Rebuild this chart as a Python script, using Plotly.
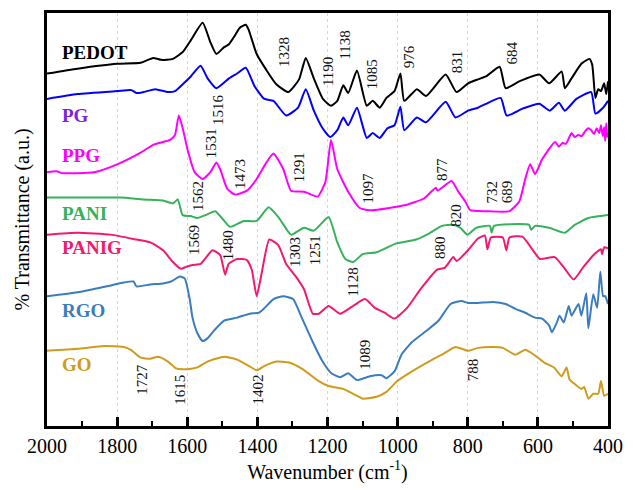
import plotly.graph_objects as go

# FTIR spectra, transmittance in arbitrary units (curves stacked with offsets)
wn_pedot = [2000, 1913, 1800, 1733, 1697, 1674, 1641, 1613, 1590, 1556, 1534, 1517, 1495, 1481, 1464,
            1450, 1433, 1425, 1402, 1375, 1346, 1312, 1281, 1262, 1239, 1213, 1190, 1172, 1155, 1141,
            1116, 1088, 1071, 1051, 1032, 1009, 992, 981, 945, 919, 863, 832, 799, 771, 748, 709, 692,
            653, 596, 568, 532, 523, 504, 476, 453, 445, 436, 428, 420, 411, 405, 400]
t_pedot = [361, 366, 371, 372, 377, 375, 376, 383, 395, 413, 393, 381, 388, 391, 400,
           408, 411, 406, 381, 365, 350, 342, 355, 377, 356, 335, 328, 333, 349, 341,
           364, 328, 333, 326, 336, 343, 361, 333, 345, 338, 360, 342, 351, 355, 358, 368, 346,
           353, 360, 351, 363, 346, 356, 371, 376, 370, 336, 345, 343, 351, 340, 353]

wn_pg = [2000, 1913, 1800, 1759, 1745, 1725, 1691, 1655, 1635, 1613, 1590, 1562, 1542, 1517, 1481,
         1458, 1433, 1408, 1380, 1354, 1318, 1284, 1262, 1239, 1214, 1192, 1172, 1155, 1141, 1116,
         1088, 1071, 1051, 1029, 1009, 992, 981, 945, 919, 863, 835, 799, 771, 748, 706, 689, 644,
         596, 566, 540, 523, 490, 448, 436, 414, 400]
t_pg = [335, 340, 343, 344, 341, 342, 345, 342, 343, 350, 358, 369, 356, 346, 356,
        361, 367, 348, 335, 333, 318, 326, 345, 323, 305, 296, 303, 316, 308, 326,
        295, 300, 295, 305, 308, 327, 303, 316, 311, 332, 316, 323, 326, 330, 336, 318, 325,
        330, 323, 331, 323, 335, 342, 320, 326, 333]

wn_ppg = [2000, 1972, 1958, 1865, 1800, 1733, 1697, 1649, 1635, 1624, 1613, 1599, 1579, 1556, 1534,
          1517, 1506, 1486, 1464, 1430, 1402, 1374, 1354, 1326, 1304, 1267, 1228, 1206, 1190, 1172,
          1141, 1107, 1074, 981, 925, 891, 886, 846, 827, 807, 793, 748, 681, 653, 636, 622, 608,
          588, 551, 540, 530, 520, 504, 495, 485, 475, 465, 456, 448, 440, 432, 425, 420, 415,
          411, 408, 405, 402, 400]
t_ppg = [260, 261, 259, 260, 268, 280, 288, 293, 298, 318, 305, 283, 260, 253, 260,
         270, 263, 243, 237, 241, 253, 270, 279, 263, 241, 240, 235, 250, 293, 263,
         240, 223, 221, 226, 233, 244, 241, 251, 240, 230, 221, 220, 220, 230, 253, 268, 258,
         273, 291, 286, 290, 289, 300, 296, 298, 297, 302, 305, 303, 299, 305, 300, 308, 297,
         306, 292, 310, 296, 300]

wn_pani = [2000, 1913, 1789, 1725, 1669, 1641, 1627, 1613, 1590, 1571, 1548, 1520, 1478, 1439, 1402,
           1368, 1338, 1304, 1267, 1239, 1197, 1172, 1149, 1127, 1099, 1060, 1004, 947, 911, 874,
           841, 821, 801, 776, 737, 732, 725, 625, 619, 608, 568, 523, 495, 456, 400]
t_pani = [234, 234, 234, 232, 231, 228, 232, 216, 215, 213, 216, 220, 204, 210, 210,
          224, 213, 196, 203, 200, 214, 188, 171, 168, 176, 178, 187, 191, 197, 205,
          206, 203, 196, 203, 205, 198, 205, 206, 201, 205, 203, 198, 206, 213, 216]

wn_panig = [2000, 1913, 1818, 1745, 1705, 1669, 1641, 1618, 1604, 1585, 1562, 1528, 1506, 1492, 1482,
            1458, 1430, 1416, 1402, 1388, 1366, 1340, 1318, 1290, 1267, 1242, 1225, 1197, 1164, 1127,
            1093, 1065, 1037, 1009, 973, 933, 888, 866, 841, 832, 799, 771, 751, 744, 734, 700, 690,
            681, 644, 616, 594, 552, 523, 498, 470, 439, 420, 417, 411, 400]
t_panig = [196, 198, 196, 191, 188, 180, 168, 161, 163, 165, 166, 180, 175, 155, 166,
           171, 170, 160, 133, 156, 191, 185, 166, 153, 140, 115, 115, 123, 115, 123,
           130, 121, 116, 110, 121, 141, 160, 162, 173, 169, 180, 192, 195, 181, 193, 193, 180,
           193, 194, 181, 171, 173, 161, 150, 163, 176, 181, 176, 183, 182]

wn_rgo = [2000, 1913, 1818, 1781, 1753, 1745, 1705, 1669, 1646, 1621, 1607, 1593, 1585, 1571, 1556,
          1542, 1523, 1495, 1458, 1422, 1396, 1382, 1354, 1326, 1298, 1276, 1242, 1214, 1189, 1164,
          1141, 1116, 1079, 1046, 1032, 1009, 989, 959, 916, 883, 849, 818, 799, 771, 728, 692, 664,
          636, 608, 588, 568, 560, 546, 538, 526, 512, 504, 484, 476, 462, 456, 442, 431, 422, 414,
          408, 400]
t_rgo = [133, 137, 144, 147, 148, 143, 145, 146, 148, 153, 151, 130, 111, 95, 87,
         90, 98, 108, 111, 115, 116, 120, 130, 133, 130, 113, 86, 66, 54, 50,
         54, 47, 51, 52, 49, 56, 73, 86, 98, 108, 125, 128, 126, 126, 127, 125, 120,
         116, 111, 110, 103, 96, 106, 113, 106, 123, 113, 125, 113, 136, 100, 135, 121, 158, 133,
         133, 125]

wn_go = [2000, 1913, 1837, 1781, 1761, 1733, 1705, 1683, 1655, 1632, 1613, 1585, 1571, 1542, 1495,
         1458, 1422, 1402, 1382, 1346, 1309, 1270, 1225, 1197, 1155, 1127, 1099, 1060, 1032, 1001,
         959, 911, 874, 835, 799, 771, 728, 700, 664, 636, 611, 582, 554, 532, 518, 510, 495, 476,
         468, 456, 442, 428, 420, 411, 400]
t_go = [77, 79, 82, 81, 78, 70, 69, 71, 66, 59, 58, 59, 60, 66, 71,
        68, 61, 57, 61, 66, 65, 58, 46, 41, 38, 33, 28, 30, 35, 46,
        56, 66, 73, 81, 77, 80, 81, 80, 73, 78, 73, 65, 60, 51, 60, 48, 43, 38,
        40, 28, 33, 33, 46, 31, 33]

series = [
    ("PEDOT", wn_pedot, t_pedot, "#000000", "#000000"),
    ("PG", wn_pg, t_pg, "#0000FF", "#7B22E5"),
    ("PPG", wn_ppg, t_ppg, "#FF00FF", "#FF00FF"),
    ("PANI", wn_pani, t_pani, "#35B25A", "#35B25A"),
    ("PANIG", wn_panig, t_panig, "#F2196E", "#F2196E"),
    ("RGO", wn_rgo, t_rgo, "#3A7CC0", "#3A7CC0"),
    ("GO", wn_go, t_go, "#CF9B1D", "#CF9B1D"),
]

# name labels placed at the left of each spectrum
name_label_wn = 1964
name_label_t = [383, 318, 277, 218, 183, 118, 63]

# band assignments written vertically next to the spectra
band_text = ["1328", "1190", "1138", "1085", "976", "831", "684",
             "1516", "1531", "1562", "1473", "1291", "1097", "877", "820", "732", "689",
             "1569", "1480", "1303", "1251", "1128", "880",
             "1089", "788", "1727", "1615", "1402"]
band_wn = [1324, 1200, 1149, 1074, 967, 832, 675,
           1514, 1534, 1571, 1450, 1281, 1085, 874, 832, 731, 689,
           1579, 1484, 1293, 1236, 1127, 877,
           1093, 785, 1730, 1621, 1399]
band_t = [383, 363, 390, 360, 378, 373, 382,
          324, 290, 236, 258, 265, 244, 263, 216, 240, 240,
          190, 185, 178, 180, 147, 183,
          73, 57, 48, 37, 37]

FONT = "Times New Roman, Liberation Serif, serif"

fig = go.Figure()
for name, wn, t, col, _ in series:
    fig.add_trace(go.Scatter(x=wn, y=t, mode="lines", name=name,
                             line=dict(color=col, width=2, shape="spline", smoothing=0.5),
                             showlegend=False, hoverinfo="skip"))

annotations = []
for (name, _, _, _, lcol), ty in zip(series, name_label_t):
    annotations.append(dict(x=name_label_wn, y=ty, xref="x", yref="y", text=f"<b>{name}</b>",
                            showarrow=False, xanchor="left", yanchor="middle",
                            font=dict(family=FONT, size=19, color=lcol)))
for txt, bx, by in zip(band_text, band_wn, band_t):
    annotations.append(dict(x=bx, y=by, xref="x", yref="y", text=txt, textangle=-90,
                            showarrow=False, xanchor="center", yanchor="middle",
                            font=dict(family=FONT, size=15, color="#111111")))

fig.update_layout(
    width=633, height=490,
    margin=dict(l=47, r=16, t=10, b=57),
    paper_bgcolor="white", plot_bgcolor="white",
    font=dict(family=FONT, size=20, color="black"),
    annotations=annotations,
)
fig.update_xaxes(
    range=[2000, 400], tick0=400, dtick=200,
    ticks="inside", ticklen=9, tickwidth=2.5, tickcolor="black",
    minor=dict(ticks="inside", dtick=100, ticklen=5, tickwidth=2, tickcolor="black", showgrid=False),
    showgrid=True, gridcolor="#F2F200", gridwidth=1, griddash="dot",
    showline=True, linecolor="black", linewidth=3, mirror=True,
    tickfont=dict(family=FONT, size=20, color="black"),
    title=dict(text="Wavenumber (cm<sup>-1</sup>)", font=dict(family=FONT, size=20), standoff=9),
    zeroline=False,
)
fig.update_yaxes(
    range=[0, 423], showticklabels=False, ticks="", showgrid=False, zeroline=False,
    showline=True, linecolor="black", linewidth=3, mirror=True,
    title=dict(text="% Transmittance (a.u.)", font=dict(family=FONT, size=20), standoff=10),
)

fig.write_html("out.html")
